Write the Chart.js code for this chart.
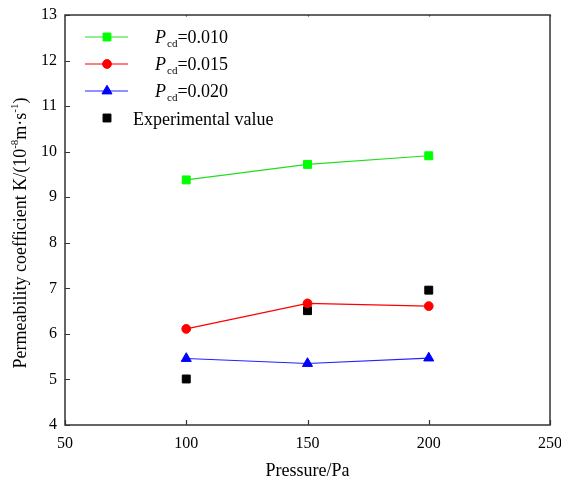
<!DOCTYPE html>
<html>
<head>
<meta charset="utf-8">
<script src="https://cdn.jsdelivr.net/npm/chart.js@4/dist/chart.umd.min.js"></script>
<style>
	html, body { margin: 0; padding: 0; background: #fff; }
	canvas { display: block; }
</style>
</head>
<body>
<canvas id="chart" width="561" height="482"></canvas>
<script>
// values
var pressures = [100, 150, 200];
var kPcd010 = [9.38, 9.72, 9.91];
var kPcd015 = [6.11, 6.67, 6.61];
var kPcd020 = [5.46, 5.35, 5.47];
var kExperimental = [5.01, 6.51, 6.96];
var legendValues = ['0.010', '0.015', '0.020'];
var xTickValues = [50, 100, 150, 200, 250];
var yTickValues = [4, 5, 6, 7, 8, 9, 10, 11, 12, 13];

var SERIF = '"Liberation Serif", "Times New Roman", serif';

function points(ys) {
	return pressures.map(function(x, i) {
		return {x: x, y: ys[i]};
	});
}

var datasets = [
	{label: 'Pcd=0.010', data: points(kPcd010), borderColor: '#22dd22', backgroundColor: '#00ff00',
		pointBorderColor: '#00ff00', pointStyle: 'rect', pointRadius: 5.6},
	{label: 'Pcd=0.015', data: points(kPcd015), borderColor: '#ff0000', backgroundColor: '#ff0000',
		pointBorderColor: '#ff0000', pointStyle: 'circle', pointRadius: 4.4},
	{label: 'Pcd=0.020', data: points(kPcd020), borderColor: '#2222ff', backgroundColor: '#0000ff',
		pointBorderColor: '#0000ff', pointStyle: 'triangle', pointRadius: 5.8},
	{label: 'Experimental value', data: points(kExperimental), borderColor: '#000', backgroundColor: '#000',
		pointBorderColor: '#000', pointStyle: 'rect', pointRadius: 5.6, showLine: false}
];

datasets.forEach(function(ds) {
	ds.borderWidth = 1.2;
	ds.pointBorderWidth = 1;
	ds.pointBackgroundColor = ds.backgroundColor;
	ds.fill = false;
	ds.tension = 0;
});

// frame, inward ticks, y title with superscripts and the legend
var decorations = {
	id: 'decorations',
	afterDraw: function(chart) {
		var ctx = chart.ctx;
		var area = chart.chartArea;
		var xs = chart.scales.x;
		var ys = chart.scales.y;

		ctx.save();
		ctx.strokeStyle = '#333';
		ctx.lineWidth = 1.5;
		ctx.strokeRect(area.left, area.top, area.right - area.left, area.bottom - area.top);

		ctx.lineWidth = 1.2;
		ctx.beginPath();
		xTickValues.forEach(function(v) {
			var px = Math.round(xs.getPixelForValue(v)) + 0.5;
			ctx.moveTo(px, area.bottom);
			ctx.lineTo(px, area.bottom - 5);
			ctx.moveTo(px, area.top);
			ctx.lineTo(px, area.top + 1.5);
		});
		yTickValues.forEach(function(v) {
			var py = Math.round(ys.getPixelForValue(v)) + 0.5;
			ctx.moveTo(area.left, py);
			ctx.lineTo(area.left + 5, py);
		});
		ctx.stroke();
		ctx.restore();

		drawYTitle(ctx, 21, 233);
		drawLegend(chart);
	}
};

function drawYTitle(ctx, cx, cy) {
	var big = '18px ' + SERIF;
	var small = '11px ' + SERIF;
	var parts = [
		{t: 'Permeability coefficient K/(10', f: big, dy: 0},
		{t: '-8', f: small, dy: -6},
		{t: 'm\u00b7s', f: big, dy: 0},
		{t: '-1', f: small, dy: -6},
		{t: ')', f: big, dy: 0}
	];
	ctx.save();
	var total = 0;
	parts.forEach(function(p) {
		ctx.font = p.f;
		p.w = ctx.measureText(p.t).width;
		total += p.w;
	});
	ctx.translate(cx, cy);
	ctx.rotate(-Math.PI / 2);
	ctx.fillStyle = '#000';
	ctx.textBaseline = 'middle';
	ctx.textAlign = 'left';
	var x = -total / 2;
	parts.forEach(function(p) {
		ctx.font = p.f;
		ctx.fillText(p.t, x, p.dy);
		x += p.w;
	});
	ctx.restore();
}

function drawLegend(chart) {
	var ctx = chart.ctx;
	var rows = [37, 64, 91, 118];
	var lineX0 = 85, lineX1 = 128, markX = 107;

	chart.data.datasets.forEach(function(ds, i) {
		var y = rows[i];
		ctx.save();
		if (ds.showLine !== false) {
			ctx.strokeStyle = ds.borderColor;
			ctx.lineWidth = ds.borderWidth;
			ctx.beginPath();
			ctx.moveTo(lineX0, y);
			ctx.lineTo(lineX1, y);
			ctx.stroke();
		}
		ctx.fillStyle = ds.pointBackgroundColor;
		ctx.strokeStyle = ds.pointBorderColor;
		ctx.lineWidth = 1;
		Chart.helpers.drawPoint(ctx, {
			pointStyle: ds.pointStyle,
			radius: ds.pointRadius,
			rotation: 0,
			borderWidth: 1
		}, markX, y);

		ctx.fillStyle = '#000';
		ctx.textBaseline = 'alphabetic';
		ctx.textAlign = 'left';
		if (i < legendValues.length) {
			var tx = 155;
			ctx.font = 'italic 18px ' + SERIF;
			ctx.fillText('P', tx, y + 6);
			tx += ctx.measureText('P').width + 1;
			ctx.font = '11px ' + SERIF;
			ctx.fillText('cd', tx, y + 10);
			tx += ctx.measureText('cd').width;
			ctx.font = '18px ' + SERIF;
			ctx.fillText('=' + legendValues[i], tx, y + 6);
		} else {
			ctx.font = '18px ' + SERIF;
			ctx.fillText(ds.label, 133, y + 7);
		}
		ctx.restore();
	});
}

new Chart(document.getElementById('chart').getContext('2d'), {
	type: 'line',
	data: {datasets: datasets},
	options: {
		responsive: false,
		animation: false,
		layout: {padding: {top: 15, right: 11, left: 0, bottom: 0}},
		plugins: {
			legend: {display: false},
			tooltip: {enabled: false}
		},
		scales: {
			x: {
				type: 'linear',
				min: 50,
				max: 250,
				afterBuildTicks: function(s) {
					s.ticks = xTickValues.map(function(v) { return {value: v}; });
				},
				afterFit: function(s) {
					s.height = 57;
					s.paddingLeft = 0;
					s.paddingRight = 0;
				},
				grid: {display: false, drawTicks: false},
				border: {display: false},
				ticks: {
					color: '#000',
					padding: 9,
					maxRotation: 0,
					autoSkip: false,
					font: {family: SERIF, size: 16}
				},
				title: {
					display: true,
					text: 'Pressure/Pa',
					color: '#000',
					padding: {top: 0, bottom: 0},
					font: {family: SERIF, size: 18}
				}
			},
			y: {
				type: 'linear',
				min: 4,
				max: 13,
				afterBuildTicks: function(s) {
					s.ticks = yTickValues.map(function(v) { return {value: v}; });
				},
				afterFit: function(s) {
					s.width = 65;
					s.paddingTop = 0;
					s.paddingBottom = 0;
				},
				grid: {display: false, drawTicks: false},
				border: {display: false},
				ticks: {
					color: '#000',
					padding: 8,
					autoSkip: false,
					font: {family: SERIF, size: 16}
				}
			}
		}
	},
	plugins: [decorations]
});
</script>
</body>
</html>
